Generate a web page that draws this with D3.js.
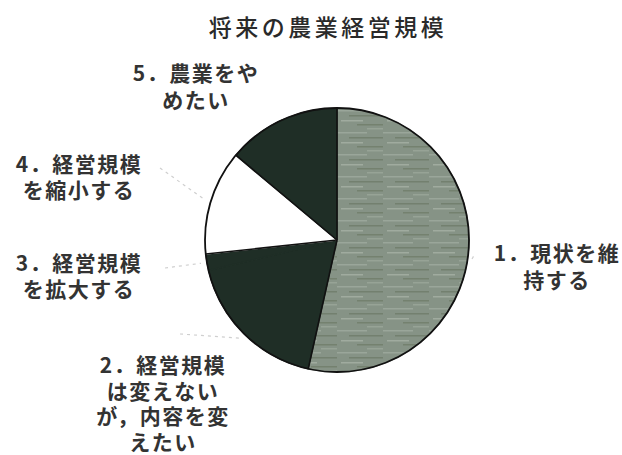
<!DOCTYPE html>
<html>
<head>
<meta charset="utf-8">
<script src="https://cdn.jsdelivr.net/npm/d3@7"></script>
<style>
	body { margin: 0; background: #fff; }
	svg { display: block; }
	text { font-family: "Noto Sans CJK JP", "Noto Sans", sans-serif; }
</style>
</head>
<body>
<script>
// 将来の農業経営規模 (share of answers, %)
const title = "将来の農業経営規模"
const categories = ["1", "2", "3", "4", "5"]
const shares = [53.5, 17.8, 2.0, 12.8, 13.9]
const labelLines = [
	["1．現状を維", "持する"],
	["2．経営規模", "は変えない", "が，内容を変", "えたい"],
	["3．経営規模", "を拡大する"],
	["4．経営規模", "を縮小する"],
	["5．農業をや", "めたい"],
]

const config = {
	width: 622,
	height: 455,
	cx: 337,
	cy: 240,
	radius: 132,
	fills: ["url(#grain)", "#1f2e26", "#1f2e26", "#ffffff", "#1f2e26"],
	label: {
		fontSize: 21,
		// centre x, first baseline and line step of each label block
		pos: [[557, 261, 27], [163, 373, 25.7], [79, 271, 26], [79, 172, 26], [196, 81, 27]],
		// leader: start near text, end just outside the pie
		leaderFrom: [[472, 259], [180, 334], [165, 268], [160, 168], null],
	},
}

const svg = d3.select("body").append("svg")
	.attr("width", config.width)
	.attr("height", config.height)

// scanned grey texture for slice 1
const pat = svg.append("defs").append("pattern")
	.attr("id", "grain")
	.attr("patternUnits", "userSpaceOnUse")
	.attr("width", 46)
	.attr("height", 22)
pat.append("rect").attr("width", 46).attr("height", 22).attr("fill", "#869386")
const streaks = [[0, 2, 30, "#9aa69a"], [12, 7, 34, "#73806f"], [4, 12, 22, "#a0ab9f"],
	[20, 16, 26, "#74816f"], [30, 20, 16, "#97a396"]]
streaks.forEach(([x, y, w, c]) => pat.append("rect")
	.attr("x", x).attr("y", y).attr("width", w).attr("height", 1.5).attr("fill", c))

svg.append("text")
	.attr("x", 328)
	.attr("y", 36)
	.attr("text-anchor", "middle")
	.attr("fill", "#2a2a2a")
	.style("font-size", "23px")
	.style("font-weight", 500)
	.style("letter-spacing", "3.5px")
	.text(title)

const data = categories.map((c, i) => ({ id: c, value: shares[i] }))

const pie = d3.pie()
	.sort(null)
	.value(d => d.value)
	.startAngle(0)
	.endAngle(2 * Math.PI)

const arc = d3.arc()
	.innerRadius(0)
	.outerRadius(config.radius)

const leaderArc = d3.arc()
	.innerRadius(config.radius + 6)
	.outerRadius(config.radius + 6)

const arcs = pie(data)

const g = svg.append("g")
	.attr("transform", `translate(${config.cx}, ${config.cy})`)

g.selectAll("path.slice")
	.data(arcs)
	.join("path")
	.attr("class", "slice")
	.attr("d", arc)
	.attr("fill", (d, i) => config.fills[i])
	.attr("stroke", (d, i) => config.fills[i])
	.attr("stroke-width", 1.2)

// Boundaries only where neighbouring fills differ (dark slices merge in the scan)
arcs.forEach((d, i) => {
	let prev = (i + arcs.length - 1) % arcs.length
	if (config.fills[i] === config.fills[prev]) return
	g.append("line")
		.attr("x1", 0).attr("y1", 0)
		.attr("x2", config.radius * Math.sin(d.startAngle))
		.attr("y2", -config.radius * Math.cos(d.startAngle))
		.attr("stroke", "#111")
		.attr("stroke-width", 1.6)
})

g.append("circle")
	.attr("r", config.radius)
	.attr("fill", "none")
	.attr("stroke", "#111")
	.attr("stroke-width", 1.8)

// Faint leader lines
arcs.forEach((d, i) => {
	let from = config.label.leaderFrom[i]
	if (!from) return
	let [ex, ey] = leaderArc.centroid(d)
	svg.append("line")
		.attr("x1", from[0])
		.attr("y1", from[1])
		.attr("x2", config.cx + ex)
		.attr("y2", config.cy + ey)
		.attr("stroke", "#cfcfcf")
		.attr("stroke-width", 1.2)
		.attr("stroke-dasharray", "3,4")
})

// Labels
const labels = svg.selectAll("text.label")
	.data(labelLines)
	.join("text")
	.attr("class", "label")
	.attr("text-anchor", "middle")
	.attr("fill", "#333")
	.style("font-size", `${config.label.fontSize}px`)
	.style("font-weight", "bold")
	.style("letter-spacing", "1.5px")

labels.each(function(lines, i) {
	let [x, y, step] = config.label.pos[i]
	d3.select(this).selectAll("tspan")
		.data(lines)
		.join("tspan")
		.attr("x", x)
		.attr("y", (l, j) => y + j * step)
		.text(l => l)
})
</script>
</body>
</html>
